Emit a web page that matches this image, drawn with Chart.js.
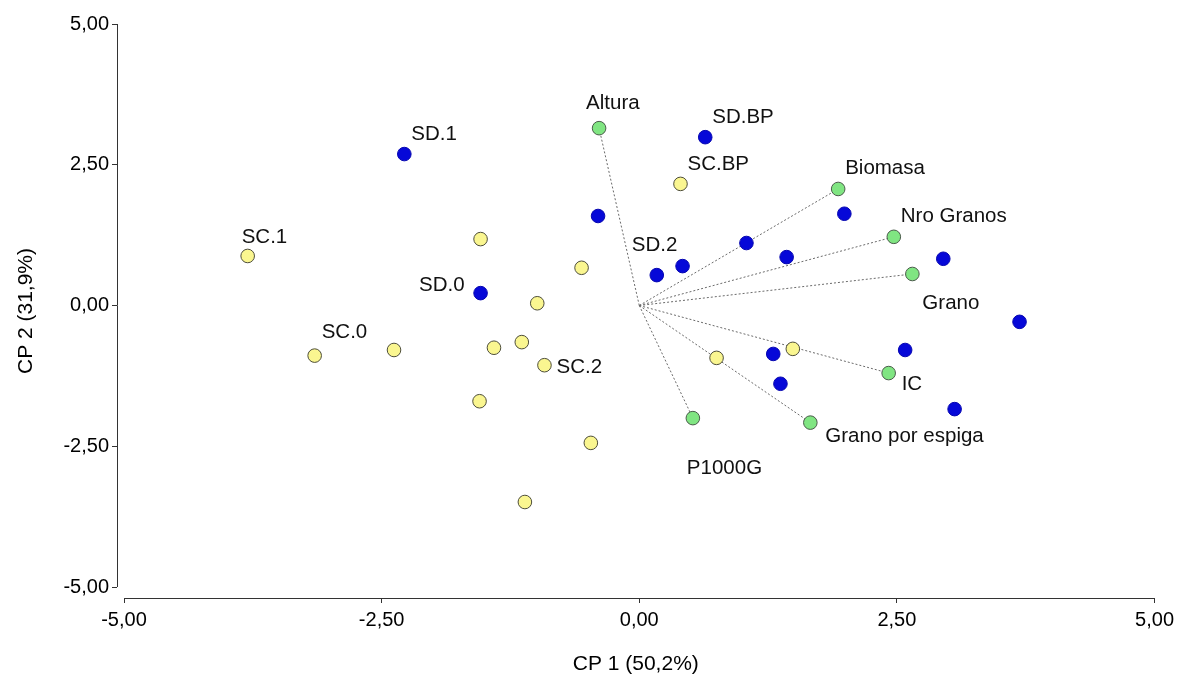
<!DOCTYPE html>
<html lang="es">
<head>
<meta charset="UTF-8">
<title>Biplot CP 1 vs CP 2</title>
<script src="https://cdn.jsdelivr.net/npm/chart.js@4"></script>
<style>
  html, body { margin: 0; padding: 0; background: #fff; }
  #wrap { width: 1179px; height: 677px; position: relative; }
</style>
</head>
<body>
<div id="wrap"><canvas id="biplot"></canvas></div>
<script>
// tratamientos SC (amarillo)
const scNombres = ['SC.1', 'SC.0', '', '', '', '', '', '', 'SC.2', '', '', '', 'SC.BP', '', ''];
const scX = [-3.80, -3.15, -2.38, -1.54, -0.56, -0.99, -1.41, -1.14, -0.92, -1.55, -0.47, -1.11, 0.40, 0.75, 1.49];
const scY = [0.88, -0.89, -0.79, 1.18, 0.67, 0.04, -0.75, -0.65, -1.06, -1.70, -2.44, -3.49, 2.16, -0.93, -0.77];

// tratamientos SD (azul)
const sdNombres = ['SD.1', 'SD.0', '', 'SD.BP', 'SD.2', '', '', '', '', '', '', '', '', '', ''];
const sdX = [-2.28, -1.54, -0.40, 0.64, 0.17, 0.42, 1.04, 1.43, 1.99, 2.95, 3.69, 2.58, 1.30, 1.37, 3.06];
const sdY = [2.69, 0.22, 1.59, 2.99, 0.54, 0.70, 1.11, 0.86, 1.63, 0.83, -0.29, -0.79, -0.86, -1.39, -1.84];

// variables (verde)
const varNombres = ['Altura', 'Biomasa', 'Nro Granos', 'Grano', 'IC', 'Grano por espiga', 'P1000G'];
const varX = [-0.39, 1.93, 2.47, 2.65, 2.42, 1.66, 0.52];
const varY = [3.15, 2.07, 1.22, 0.56, -1.20, -2.08, -2.00];

const ticksEje = [-5, -2.5, 0, 2.5, 5];

// posicion de cada etiqueta respecto de su punto: [dx, dy, align]
const posEtiq = {
  'SC.1': [-6, -19, 'left'],
  'SC.0': [7, -23, 'left'],
  'SC.2': [12, 2, 'left'],
  'SC.BP': [7, -20, 'left'],
  'SD.1': [7, -20, 'left'],
  'SD.0': [-16, -8, 'right'],
  'SD.BP': [7, -20, 'left'],
  'SD.2': [-25, -30, 'left'],
  'Altura': [-13, -25, 'left'],
  'Biomasa': [7, -21, 'left'],
  'Nro Granos': [7, -20, 'left'],
  'Grano': [10, 29, 'left'],
  'IC': [13, 11, 'left'],
  'Grano por espiga': [15, 14, 'left'],
  'P1000G': [-6, 50, 'left']
};

const fuente = '"Liberation Sans", Arial, sans-serif';
const fmt = v => Number(v).toFixed(2).replace('.', ',');
const puntos = (xs, ys) => xs.map((x, i) => ({ x, y: ys[i] }));

const vectores = varX.map((vx, i) => ({
  type: 'line',
  data: [{ x: 0, y: 0 }, { x: vx, y: varY[i] }],
  showLine: true,
  pointRadius: 0,
  borderColor: '#6a6a6a',
  borderWidth: 1,
  borderDash: [2, 2],
  order: 5
}));

const ejes = {
  id: 'ejes',
  beforeDatasetsDraw(chart) {
    const { ctx, chartArea, scales: { x, y } } = chart;
    ctx.save();
    ctx.strokeStyle = '#333';
    ctx.lineWidth = 1;
    ctx.beginPath();
    ctx.moveTo(chartArea.left + 0.5, y.getPixelForValue(5));
    ctx.lineTo(chartArea.left + 0.5, y.getPixelForValue(-5));
    ctx.moveTo(x.getPixelForValue(-5), chartArea.bottom + 0.5);
    ctx.lineTo(x.getPixelForValue(5), chartArea.bottom + 0.5);
    ctx.stroke();
    ctx.restore();
  }
};

const etiquetas = {
  id: 'etiquetas',
  afterDatasetsDraw(chart) {
    const ctx = chart.ctx;
    ctx.save();
    ctx.font = '20.5px ' + fuente;
    ctx.fillStyle = '#111';
    ctx.textBaseline = 'middle';
    chart.data.datasets.forEach((ds, di) => {
      if (!ds.nombres) return;
      const meta = chart.getDatasetMeta(di);
      ds.nombres.forEach((n, i) => {
        if (!n) return;
        const p = meta.data[i];
        const [dx, dy, al] = posEtiq[n] || [7, -20, 'left'];
        ctx.textAlign = al;
        ctx.fillText(n, p.x + dx, p.y + dy);
      });
    });
    ctx.restore();
  }
};

new Chart(document.getElementById('biplot'), {
  type: 'scatter',
  data: {
    datasets: [
      ...vectores,
      {
        label: 'SC',
        nombres: scNombres,
        data: puntos(scX, scY),
        pointRadius: 6.8,
        backgroundColor: '#faf690',
        borderColor: '#4d4d3a',
        borderWidth: 1,
        order: 1
      },
      {
        label: 'SD',
        nombres: sdNombres,
        data: puntos(sdX, sdY),
        pointRadius: 6.8,
        backgroundColor: '#0608d8',
        borderColor: '#0606b0',
        borderWidth: 1,
        order: 1
      },
      {
        label: 'Variables',
        nombres: varNombres,
        data: puntos(varX, varY),
        pointRadius: 6.8,
        backgroundColor: '#80e582',
        borderColor: '#4a5a4a',
        borderWidth: 1,
        order: 0
      }
    ]
  },
  options: {
    responsive: true,
    maintainAspectRatio: false,
    animation: false,
    layout: { padding: { left: 0, right: 23, top: 24, bottom: 0 } },
    plugins: {
      legend: { display: false },
      tooltip: { enabled: false }
    },
    scales: {
      x: {
        type: 'linear',
        min: -5.068,
        max: 5,
        afterBuildTicks: s => { s.ticks = ticksEje.map(v => ({ value: v })); },
        afterFit: s => { s.height = 79; },
        border: { display: false },
        grid: { drawOnChartArea: false, drawTicks: true, tickLength: 5, color: '#333' },
        ticks: { color: '#000', font: { size: 20, family: fuente }, padding: 5, maxRotation: 0, autoSkip: false, callback: v => fmt(v) },
        title: { display: true, text: 'CP 1 (50,2%)', color: '#000', font: { size: 21, family: fuente }, padding: { top: 0, bottom: 0 } }
      },
      y: {
        type: 'linear',
        min: -5.195,
        max: 5,
        afterBuildTicks: s => { s.ticks = ticksEje.map(v => ({ value: v })); },
        afterFit: s => { s.width = 117; },
        border: { display: false },
        grid: { drawOnChartArea: false, drawTicks: true, tickLength: 5, color: '#333' },
        ticks: { color: '#000', font: { size: 20, family: fuente }, padding: 3, autoSkip: false, callback: v => fmt(v) },
        title: { display: true, text: 'CP 2 (31,9%)', color: '#000', font: { size: 21, family: fuente }, padding: { top: 14, bottom: 0 } }
      }
    }
  },
  plugins: [ejes, etiquetas]
});
</script>
</body>
</html>
